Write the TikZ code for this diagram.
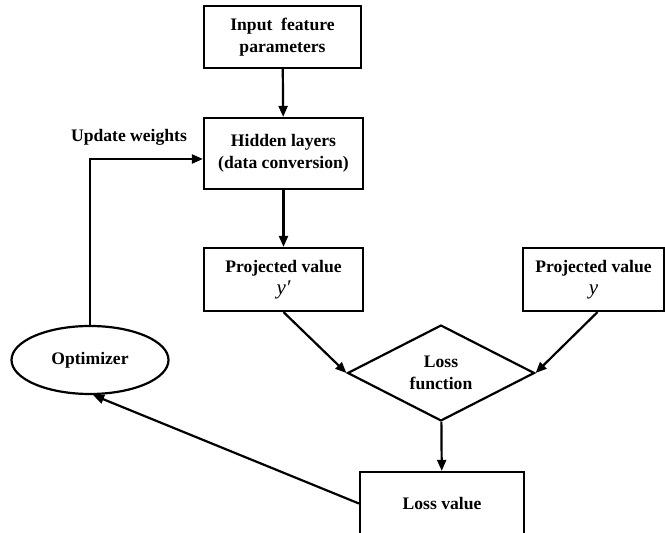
\documentclass[tikz,border=0pt]{standalone}
\usepackage{fontspec}
\setmainfont{Liberation Serif}
\usetikzlibrary{shapes.geometric,arrows.meta}

\begin{document}
\begin{tikzpicture}[x=0.5pt,y=-0.5pt,
  bloc/.style={draw,line width=1.1pt,align=center,inner sep=0pt,font=\fontsize{8.8}{10.8}\selectfont\bfseries},
  fleche/.style={-{Triangle[length=5.5pt,width=4.5pt]},line width=1.1pt}]
\useasboundingbox (0,0) rectangle (665,533);
\clip (0,0) rectangle (665,533);

\node[bloc,minimum width=78.5pt,minimum height=31pt] (entree) at (282.5,37) {Input\ \ feature\\parameters};
\node[bloc,minimum width=79.5pt,minimum height=35.5pt] (cachee) at (283.5,153.5) {Hidden layers\\(data conversion)};
\node[bloc,minimum width=79.5pt,minimum height=31.5pt] (proj1) at (283.5,279.5) {Projected value\\[0pt]{\fontsize{10.5}{10}\selectfont\mdseries\itshape y′}};
\node[bloc,minimum width=70.5pt,minimum height=31.5pt] (proj2) at (593.5,279.5) {Projected value\\[0pt]{\fontsize{10.5}{10}\selectfont\mdseries\itshape y}};
\node[bloc,diamond,minimum width=93.5pt,minimum height=37.5pt] (perte) at (441,373) {Loss\\function};
\node[bloc,minimum width=82pt,minimum height=31.5pt] (valeur) at (442,503.5) {Loss value};
\node[bloc,ellipse,minimum width=78.5pt,minimum height=34pt] (optim) at (90,360) {Optimizer};
\node[font=\fontsize{8.8}{10.8}\selectfont\bfseries] (maj) at (129,137) {Update weights};

\draw[fleche] (entree) -- (cachee);
\draw[fleche] (cachee) -- (proj1);
\draw[fleche] (proj1.south) -- (perte.west);
\draw[fleche] ([xshift=2pt]proj2.south) -- (perte.east);
\draw[fleche] (perte) -- (valeur);
\draw[fleche] (valeur.west) -- (optim.-85);
\draw[fleche] (optim.north) |- ([yshift=-2.75pt]cachee.west);

\end{tikzpicture}
\end{document}
